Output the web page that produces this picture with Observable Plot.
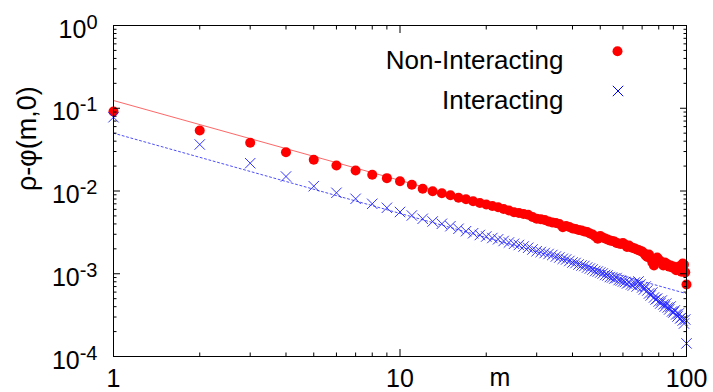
<!DOCTYPE html>
<html>
<head>
<meta charset="utf-8">
<script src="https://cdn.jsdelivr.net/npm/d3@7"></script>
<script src="https://cdn.jsdelivr.net/npm/@observablehq/plot@0.6"></script>
<style>
  html, body { margin: 0; padding: 0; background: #fff; }
</style>
</head>
<body>
<div id="chart"></div>
<script>
// m values (sites)
const mValues = d3.range(1, 101);

// Non-Interacting: rho - phi(m,0)
const nonInteracting = [
  0.0914, 0.0538, 0.0382, 0.0294, 0.0238, 0.0203, 0.0177, 0.0157, 0.0143, 0.0131,
  0.01188, 0.01063, 0.00995, 0.00941, 0.00890, 0.00828, 0.00796, 0.00753, 0.00716, 0.00687,
  0.00659, 0.00637, 0.00606, 0.00581, 0.00554, 0.00542, 0.00527, 0.00516, 0.00485, 0.00461,
  0.00455, 0.00446, 0.00428, 0.00416, 0.00411, 0.00399, 0.00365, 0.00378, 0.00367, 0.00352,
  0.00347, 0.00338, 0.00333, 0.00324, 0.00320, 0.00306, 0.00298, 0.00282, 0.00265, 0.00286,
  0.00274, 0.00267, 0.00259, 0.00252, 0.00249, 0.00245, 0.00235, 0.00232, 0.00229, 0.00235,
  0.00226, 0.00211, 0.00220, 0.00209, 0.00205, 0.00202, 0.00196, 0.00194, 0.00188, 0.00186,
  0.00178, 0.00166, 0.00159, 0.00171, 0.00153, 0.00137, 0.00126, 0.00149, 0.00157, 0.00149,
  0.00141, 0.00137, 0.00126, 0.00137, 0.00133, 0.00129, 0.00122, 0.00126, 0.00119, 0.00122,
  0.00116, 0.00110, 0.00116, 0.00122, 0.00116, 0.00106, 0.00133, 0.00129, 0.00104, 0.00074
];

// Interacting: rho - phi(m,0)
const interacting = [
  0.0779, 0.03646, 0.02168, 0.01497, 0.01143, 0.009511, 0.008048, 0.007004, 0.006266, 0.005575,
  0.005058, 0.004613, 0.004280, 0.004014, 0.003755, 0.003492, 0.003267, 0.003090, 0.002939, 0.002819,
  0.002704, 0.002608, 0.002488, 0.002386, 0.002301, 0.002225, 0.002134, 0.002059, 0.001964, 0.001873,
  0.001831, 0.001781, 0.001733, 0.001685, 0.001616, 0.001572, 0.001516, 0.001487, 0.001426, 0.001368,
  0.001349, 0.001293, 0.001258, 0.001241, 0.001190, 0.001157, 0.001125, 0.001079, 0.001064, 0.001035,
  0.001007, 0.000966, 0.000953, 0.000913, 0.000901, 0.000876, 0.000888, 0.000840, 0.000829, 0.000806,
  0.000795, 0.000762, 0.000784, 0.000742, 0.000721, 0.000784, 0.000701, 0.000806, 0.000742, 0.000682,
  0.000645, 0.000701, 0.000627, 0.000577, 0.000546, 0.000593, 0.000516, 0.000488, 0.000502, 0.000462,
  0.000437, 0.000475, 0.000425, 0.000402, 0.000437, 0.000391, 0.000370, 0.000402, 0.000350, 0.000340,
  0.000360, 0.000322, 0.000304, 0.000331, 0.000288, 0.000296, 0.000272, 0.000250, 0.000280, 0.000144
];

// Power-law guide lines (end points)
const redFitM = [1, 60];
const redFitV = [0.124, 0.00238];
const blueFitM = [1, 100];
const blueFitV = [0.05, 0.000575];

// ticks
const xMajor = [1, 10, 100];
const xMinor = [2, 3, 4, 5, 6, 7, 8, 9, 20, 30, 40, 50, 60, 70, 80, 90];
const yMajor = [1e-4, 1e-3, 1e-2, 1e-1, 1];
const yMinor = [];
[1e-4, 1e-3, 1e-2, 1e-1].forEach(d => { for (let k = 2; k <= 9; k++) yMinor.push(k * d); });

const seriesNames = ["Non-Interacting", "Interacting"];
const yLabel = "ρ-φ(m,0)";
const xLabel = "m";

const red = mValues.map((m, i) => ({m, v: nonInteracting[i]}));
const blue = mValues.map((m, i) => ({m, v: interacting[i]}));
const redFit = redFitM.map((m, i) => ({m, v: redFitV[i]}));
const blueFit = blueFitM.map((m, i) => ({m, v: blueFitV[i]}));

const FONT = "'Liberation Sans', Arial, Helvetica, sans-serif";
const BLUE = "#1f1fff";
const blank = () => "";

function superscriptRender(index, scales, values, dims, context, next) {
  const g = next(index, scales, values, dims, context);
  d3.select(g).selectAll("text").each(function () {
    const s = this.textContent;
    const [b, e] = s.split("^");
    const t = d3.select(this);
    t.text(null);
    t.append("tspan").text(b);
    t.append("tspan").attr("dy", -9).attr("font-size", 20).text(e);
  });
  return g;
}

const plot = Plot.plot({
  width: 713,
  height: 392,
  marginLeft: 113,
  marginRight: 27,
  marginTop: 25,
  marginBottom: 36,
  style: {fontFamily: FONT, background: "white", color: "black", overflow: "visible"},
  x: {type: "log", domain: [1, 100]},
  y: {type: "log", domain: [1e-4, 1]},
  marks: [
    Plot.line(redFit, {x: "m", y: "v", stroke: "#ff0000", strokeWidth: 0.8, strokeOpacity: 0.75}),
    Plot.line(blueFit, {x: "m", y: "v", stroke: "#0000ff", strokeWidth: 1, strokeOpacity: 0.7, strokeDasharray: "2,2.5"}),
    Plot.dot(red, {x: "m", y: "v", r: 5, fill: "#ff0000", stroke: "none"}),
    Plot.dot(blue, {x: "m", y: "v", r: 4.8, symbol: "times", stroke: BLUE, strokeWidth: 0.9}),
    Plot.frame({stroke: "black", strokeWidth: 1}),
    // inward ticks on all four sides
    Plot.axisX(xMajor, {anchor: "bottom", tickSize: -7, tickFormat: blank, label: null}),
    Plot.axisX(xMinor, {anchor: "bottom", tickSize: -3.5, tickFormat: blank, label: null}),
    Plot.axisX(xMajor, {anchor: "top", tickSize: -7, tickFormat: blank, label: null}),
    Plot.axisX(xMinor, {anchor: "top", tickSize: -3.5, tickFormat: blank, label: null}),
    Plot.axisY(yMajor, {anchor: "left", tickSize: -7, tickFormat: blank, label: null}),
    Plot.axisY(yMinor, {anchor: "left", tickSize: -3.5, tickFormat: blank, label: null}),
    Plot.axisY(yMajor, {anchor: "right", tickSize: -7, tickFormat: blank, label: null}),
    Plot.axisY(yMinor, {anchor: "right", tickSize: -3.5, tickFormat: blank, label: null}),
    // x tick labels
    Plot.axisX(xMajor, {anchor: "bottom", tickSize: 0, tickPadding: 13, fontSize: 25, tickFormat: d => String(d), label: null}),
    // y tick labels with superscripts
    Plot.text(yMajor, {
      y: d => d, frameAnchor: "left", text: d => "10^" + Math.round(Math.log10(d)),
      textAnchor: "end", dx: -16, dy: 4, fontSize: 25, render: superscriptRender
    }),
    // axis labels
    Plot.text([yLabel], {frameAnchor: "left", rotate: -90, dx: -86, fontSize: 27}),
    Plot.text([xLabel], {frameAnchor: "bottom", dx: 100, dy: 12, lineAnchor: "top", fontSize: 25}),
    // legend
    Plot.text([seriesNames[0]], {frameAnchor: "top-right", textAnchor: "end", dx: -123, dy: 25.5, fontSize: 26}),
    Plot.text([seriesNames[1]], {frameAnchor: "top-right", textAnchor: "end", dx: -123, dy: 65, fontSize: 26}),
    Plot.dot([seriesNames[0]], {frameAnchor: "top-right", dx: -69, dy: 25.7, r: 5, fill: "#ff0000", stroke: "none"}),
    Plot.dot([seriesNames[1]], {frameAnchor: "top-right", dx: -68.5, dy: 65.5, r: 4.8, symbol: "times", fill: "none", stroke: "#0000ff", strokeWidth: 1})
  ]
});

document.getElementById("chart").appendChild(plot);
</script>
</body>
</html>
